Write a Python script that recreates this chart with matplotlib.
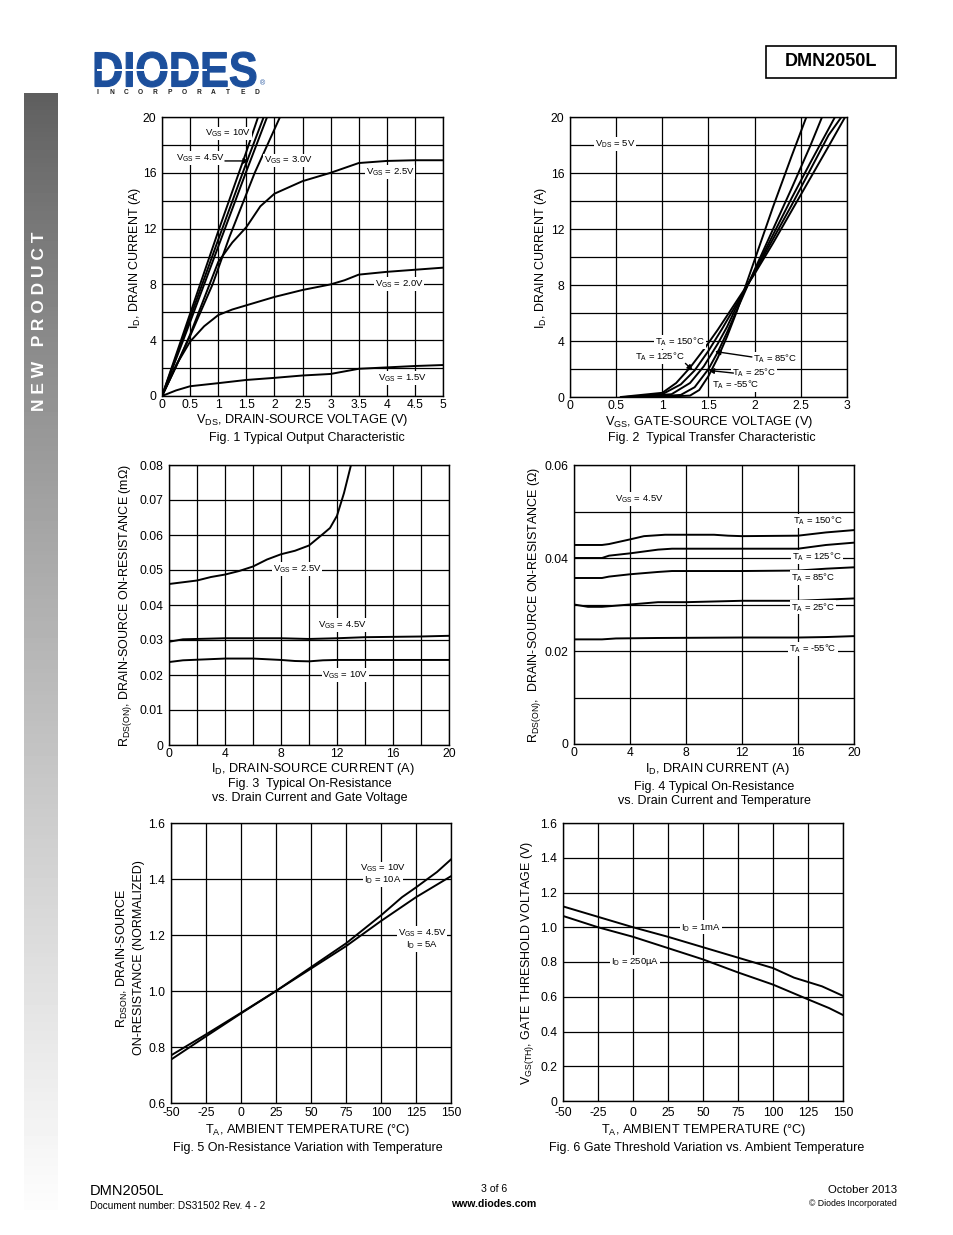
import numpy as np
import matplotlib.pyplot as plt
from matplotlib.textpath import TextPath
from matplotlib.patches import PathPatch, Rectangle
from matplotlib.font_manager import FontProperties
from matplotlib.transforms import Affine2D, IdentityTransform

# ---- data ----

# Fig 1: output characteristic, VDS (V) vs ID (A)
f1_vgs15_x = [0, 0.25, 0.5, 1, 1.5, 2, 2.5, 3, 3.5, 4, 4.5, 5]
f1_vgs15_y = [0, 0.4, 0.7, 0.92, 1.15, 1.3, 1.47, 1.58, 1.95, 2.05, 2.15, 2.22]
f1_vgs20_x = [0, 0.25, 0.5, 0.75, 1, 1.25, 1.5, 2, 2.5, 3, 3.25, 3.5, 4, 4.5, 5]
f1_vgs20_y = [0, 2.2, 3.9, 5.0, 5.8, 6.2, 6.5, 7.1, 7.6, 8.0, 8.3, 8.7, 8.9, 9.05, 9.2]
f1_vgs25_x = [0, 0.25, 0.5, 0.75, 1, 1.25, 1.5, 1.75, 2, 2.5, 3, 3.5, 4, 4.5, 5]
f1_vgs25_y = [0, 2.1, 4.4, 7.0, 9.6, 11.0, 12.1, 13.6, 14.5, 15.4, 16.0, 16.7, 16.85, 16.9, 16.9]
f1_vgs30_x = [0, 0.5, 0.9, 1.2, 1.65, 2.1]
f1_vgs30_y = [0, 4.3, 8.0, 11.4, 16.0, 20]
f1_vgs35_x = [0, 0.5, 1, 1.5, 1.87]
f1_vgs35_y = [0, 5.3, 10.7, 16.1, 20]
f1_vgs45_x = [0, 0.5, 1, 1.5, 1.81]
f1_vgs45_y = [0, 5.6, 11.2, 16.7, 20]
f1_vgs10_x = [0, 0.5, 1, 1.5, 1.71]
f1_vgs10_y = [0, 5.9, 11.8, 17.5, 20]

# Fig 2: transfer characteristic, VGS (V) vs ID (A)
f2_m55_x = [0.95, 1.3, 1.4, 1.5, 1.6, 1.7, 1.8, 1.9, 2.0, 2.2, 2.4, 2.56]
f2_m55_y = [0, 0.1, 0.5, 1.5, 2.8, 4.3, 6.0, 7.9, 9.8, 13.6, 17.2, 20]
f2_25_x = [0.85, 1.2, 1.35, 1.5, 1.6, 1.7, 1.8, 1.9, 2.0, 2.2, 2.4, 2.6, 2.73]
f2_25_y = [0, 0.15, 0.7, 2.0, 3.2, 4.6, 6.1, 7.6, 9.1, 12.0, 14.9, 17.9, 20]
f2_85_x = [0.7, 1.1, 1.3, 1.45, 1.6, 1.7, 1.8, 1.9, 2.0, 2.2, 2.4, 2.6, 2.87]
f2_85_y = [0, 0.2, 1.0, 2.2, 3.8, 5.0, 6.4, 7.7, 9.0, 11.6, 14.2, 16.7, 20]
f2_125_x = [0.6, 1.0, 1.2, 1.35, 1.5, 1.65, 1.8, 1.9, 2.0, 2.2, 2.4, 2.6, 2.8, 2.94]
f2_125_y = [0, 0.2, 0.9, 1.9, 3.3, 4.9, 6.6, 7.7, 8.9, 11.3, 13.7, 16.2, 18.7, 20]
f2_150_x = [0.55, 1.0, 1.15, 1.3, 1.45, 1.6, 1.75, 1.9, 2.0, 2.2, 2.4, 2.6, 2.8, 2.98]
f2_150_y = [0, 0.3, 1.0, 2.1, 3.4, 4.8, 6.3, 7.8, 8.8, 11.0, 13.3, 15.6, 17.9, 20]

# Fig 3: RDS(ON) vs ID for gate voltages
f3_vgs25_x = [0, 1, 2, 3, 4, 5, 6, 7, 8, 9, 10, 11, 11.5, 12, 12.5, 13]
f3_vgs25_y = [0.046, 0.0465, 0.047, 0.048, 0.0487, 0.0497, 0.051, 0.053, 0.0545, 0.0555,
              0.057, 0.0603, 0.062, 0.0655, 0.072, 0.08]
f3_vgs45_x = [0, 1, 4, 8, 10, 12, 14, 18, 20]
f3_vgs45_y = [0.0295, 0.0302, 0.0305, 0.0305, 0.0303, 0.0305, 0.0308, 0.031, 0.0312]
f3_vgs10_x = [0, 1, 4, 6, 8, 9, 10, 11, 12, 20]
f3_vgs10_y = [0.0237, 0.0242, 0.0247, 0.0247, 0.0243, 0.024, 0.0239, 0.0242, 0.0243, 0.0243]

# Fig 4: RDS(ON) vs ID for temperatures
f4_150_x = [0, 2, 2.5, 4, 5, 6.5, 8, 10, 11, 12, 16, 18, 20]
f4_150_y = [0.0428, 0.0428, 0.043, 0.044, 0.0447, 0.045, 0.045, 0.045, 0.0448, 0.0447,
            0.0448, 0.0455, 0.046]
f4_125_x = [0, 2, 2.5, 4, 6, 7, 12, 16, 18, 20]
f4_125_y = [0.040, 0.040, 0.0405, 0.041, 0.0418, 0.042, 0.042, 0.042, 0.0428, 0.0433]
f4_85_x = [0, 2, 2.5, 4, 6, 7, 12, 16, 18, 20]
f4_85_y = [0.0357, 0.0357, 0.036, 0.0365, 0.037, 0.0372, 0.0372, 0.0373, 0.0377, 0.038]
f4_25_x = [0, 1, 2, 4, 6, 8, 12, 16, 20]
f4_25_y = [0.030, 0.0295, 0.0295, 0.030, 0.0305, 0.0305, 0.0308, 0.0308, 0.0313]
f4_m55_x = [0, 2, 3, 6, 12, 16, 18, 20]
f4_m55_y = [0.0225, 0.0225, 0.0227, 0.0228, 0.0229, 0.0229, 0.023, 0.0232]

# Fig 5: normalized RDS(ON) vs temperature
f5_10v_x = [-50, -25, 0, 25, 50, 75, 100, 115, 125, 140, 150]
f5_10v_y = [0.755, 0.838, 0.92, 1.0, 1.085, 1.17, 1.27, 1.335, 1.37, 1.425, 1.47]
f5_45v_x = [-50, -25, 0, 25, 50, 75, 100, 125, 140, 150]
f5_45v_y = [0.77, 0.845, 0.922, 1.0, 1.08, 1.16, 1.25, 1.335, 1.38, 1.41]

# Fig 6: gate threshold vs temperature
f6_1ma_x = [-50, -25, 0, 25, 50, 75, 100, 115, 135, 150]
f6_1ma_y = [1.12, 1.06, 1.0, 0.945, 0.885, 0.825, 0.765, 0.71, 0.66, 0.605]
f6_250_x = [-50, -25, 0, 25, 50, 75, 100, 125, 140, 150]
f6_250_y = [1.065, 1.0, 0.945, 0.88, 0.815, 0.74, 0.67, 0.585, 0.535, 0.495]

# ---- page setup ----
W, H = 954, 1235
plt.rcParams['font.family'] = ['Liberation Sans', 'DejaVu Sans']
plt.rcParams['mathtext.default'] = 'regular'

fig = plt.figure(figsize=(W / 100, H / 100), dpi=100)


def pax(x0, y0, x1, y1):
    # axes from page pixel box (top-left origin)
    return fig.add_axes([x0 / W, 1 - y1 / H, (x1 - x0) / W, (y1 - y0) / H])


def ftext(x, y, s, **kw):
    kw.setdefault('ha', 'center')
    kw.setdefault('va', 'center')
    fig.text(x / W, 1 - y / H, s, **kw)


def style(ax, xlim, ylim, xt, xl, yt, yl, xpad=2):
    ax.set_xlim(*xlim)
    ax.set_ylim(*ylim)
    ax.set_xticks(xt)
    ax.set_xticklabels(xl)
    ax.set_yticks(yt)
    ax.set_yticklabels(yl)
    ax.grid(True, color='black', lw=0.9)
    ax.set_axisbelow(True)
    ax.tick_params(length=0, labelsize=8.7, colors='black')
    ax.tick_params(axis='x', pad=xpad)
    ax.tick_params(axis='y', pad=4)
    for s in ax.spines.values():
        s.set_linewidth(1.0)


def lab(ax, x, y, s, **kw):
    ax.text(x, y, s, fontsize=6.8, ha='center', va='center', zorder=5,
            bbox=dict(fc='white', ec='none', pad=0.6), **kw)


def arrow(ax, x0, y0, x1, y1):
    ax.annotate('', xy=(x1, y1), xytext=(x0, y0), zorder=6,
                arrowprops=dict(arrowstyle='-|>', color='black', lw=1.0,
                                mutation_scale=8, shrinkA=0, shrinkB=0))


LW = 1.4
TEMP_TICKS = ['-50', '-25', '0', '25', '50', '75', '100', '125', '150']

# ---- Fig 1 ----
ax1 = pax(162, 117, 443, 396)
style(ax1, (0, 5), (0, 20),
      np.arange(0, 5.01, 0.5), ['0', '0.5', '1', '1.5', '2', '2.5', '3', '3.5', '4', '4.5', '5'],
      np.arange(0, 20.1, 2), ['0', '', '4', '', '8', '', '12', '', '16', '', '20'])
for xs, ys in [(f1_vgs15_x, f1_vgs15_y), (f1_vgs20_x, f1_vgs20_y), (f1_vgs25_x, f1_vgs25_y),
               (f1_vgs30_x, f1_vgs30_y), (f1_vgs35_x, f1_vgs35_y), (f1_vgs45_x, f1_vgs45_y),
               (f1_vgs10_x, f1_vgs10_y)]:
    ax1.plot(xs, ys, color='black', lw=LW, clip_on=True)
lab(ax1, 1.17, 18.8, 'V$_{GS}$ = 10V')
lab(ax1, 0.69, 17.06, 'V$_{GS}$ = 4.5V')
arrow(ax1, 1.12, 16.85, 1.55, 16.85)
lab(ax1, 2.24, 16.9, 'V$_{GS}$ = 3.0V')
lab(ax1, 4.06, 16.06, 'V$_{GS}$ = 2.5V')
lab(ax1, 4.22, 8.03, 'V$_{GS}$ = 2.0V')
lab(ax1, 4.27, 1.29, 'V$_{GS}$ = 1.5V')
ftext(135, 258, 'I$_D$, DRAIN CURRENT (A)', rotation=90, fontsize=9)
ftext(302, 420, 'V$_{DS}$, DRAIN-SOURCE VOLTAGE (V)', fontsize=9.2)
ftext(307, 438, 'Fig. 1 Typical Output Characteristic', fontsize=9)

# ---- Fig 2 ----
ax2 = pax(570, 117, 847, 397)
style(ax2, (0, 3), (0, 20),
      np.arange(0, 3.01, 0.5), ['0', '0.5', '1', '1.5', '2', '2.5', '3'],
      np.arange(0, 20.1, 2), ['0', '', '4', '', '8', '', '12', '', '16', '', '20'])
for xs, ys in [(f2_m55_x, f2_m55_y), (f2_25_x, f2_25_y), (f2_85_x, f2_85_y),
               (f2_125_x, f2_125_y), (f2_150_x, f2_150_y)]:
    ax2.plot(xs, ys, color='black', lw=LW)
lab(ax2, 0.49, 18.07, 'V$_{DS}$ = 5V')
lab(ax2, 1.19, 3.93, 'T$_A$ = 150°C')
lab(ax2, 0.97, 2.86, 'T$_A$ = 125°C')
arrow(ax2, 1.25, 2.4, 1.33, 1.9)
lab(ax2, 2.22, 2.71, 'T$_A$ = 85°C')
arrow(ax2, 1.97, 2.86, 1.57, 3.25)
lab(ax2, 1.99, 1.71, 'T$_A$ = 25°C')
arrow(ax2, 1.77, 1.71, 1.5, 1.9)
lab(ax2, 1.79, 0.86, 'T$_A$ = -55°C')
ftext(541, 258, 'I$_D$, DRAIN CURRENT (A)', rotation=90, fontsize=9)
ftext(709, 422, 'V$_{GS}$, GATE-SOURCE VOLTAGE (V)', fontsize=9.2)
ftext(712, 438, 'Fig. 2  Typical Transfer Characteristic', fontsize=9)

# ---- Fig 3 ----
ax3 = pax(169, 465, 449, 745)
style(ax3, (0, 20), (0, 0.08),
      np.arange(0, 20.1, 2), ['0', '', '4', '', '8', '', '12', '', '16', '', '20'],
      np.arange(0, 0.0801, 0.01), ['0', '0.01', '0.02', '0.03', '0.04', '0.05', '0.06', '0.07', '0.08'])
for xs, ys in [(f3_vgs25_x, f3_vgs25_y), (f3_vgs45_x, f3_vgs45_y), (f3_vgs10_x, f3_vgs10_y)]:
    ax3.plot(xs, ys, color='black', lw=LW)
lab(ax3, 9.14, 0.0503, 'V$_{GS}$ = 2.5V')
lab(ax3, 12.4, 0.0343, 'V$_{GS}$ = 4.5V')
lab(ax3, 12.6, 0.02, 'V$_{GS}$ = 10V')
ftext(126, 605, 'R$_{DS(ON)}$, DRAIN-SOURCE ON-RESISTANCE (mΩ)', rotation=90, fontsize=9)
ftext(313, 769, 'I$_D$, DRAIN-SOURCE CURRENT (A)', fontsize=9.2)
ftext(310, 784, 'Fig. 3  Typical On-Resistance', fontsize=9)
ftext(310, 798, 'vs. Drain Current and Gate Voltage', fontsize=9)

# ---- Fig 4 ----
ax4 = pax(574, 465, 854, 744)
style(ax4, (0, 20), (0, 0.06),
      np.arange(0, 20.1, 4), ['0', '4', '8', '12', '16', '20'],
      np.arange(0, 0.0601, 0.01), ['0', '', '0.02', '', '0.04', '', '0.06'])
for xs, ys in [(f4_150_x, f4_150_y), (f4_125_x, f4_125_y), (f4_85_x, f4_85_y),
               (f4_25_x, f4_25_y), (f4_m55_x, f4_m55_y)]:
    ax4.plot(xs, ys, color='black', lw=LW)
lab(ax4, 4.64, 0.0527, 'V$_{GS}$ = 4.5V')
lab(ax4, 17.4, 0.048, 'T$_A$ = 150°C')
lab(ax4, 17.36, 0.0403, 'T$_A$ = 125°C')
lab(ax4, 17.1, 0.0358, 'T$_A$ = 85°C')
lab(ax4, 17.1, 0.0294, 'T$_A$ = 25°C')
lab(ax4, 17.07, 0.0204, 'T$_A$ = -55°C')
ftext(535, 605, 'R$_{DS(ON)}$,  DRAIN-SOURCE ON-RESISTANCE (Ω)', rotation=90, fontsize=9)
ftext(717, 769, 'I$_D$, DRAIN CURRENT (A)', fontsize=9.2)
ftext(714, 787, 'Fig. 4 Typical On-Resistance', fontsize=9)
ftext(714, 801, 'vs. Drain Current and Temperature', fontsize=9)

# ---- Fig 5 ----
ax5 = pax(171, 823, 451, 1103)
style(ax5, (-50, 150), (0.6, 1.6),
      np.arange(-50, 151, 25), TEMP_TICKS,
      np.arange(0.6, 1.61, 0.2), ['0.6', '0.8', '1.0', '1.2', '1.4', '1.6'], xpad=3)
ax5.plot(f5_10v_x, f5_10v_y, color='black', lw=LW)
ax5.plot(f5_45v_x, f5_45v_y, color='black', lw=LW)
lab(ax5, 101.4, 1.438, 'V$_{GS}$ = 10V')
lab(ax5, 101.4, 1.397, 'I$_D$ = 10A')
lab(ax5, 129.3, 1.207, 'V$_{GS}$ = 4.5V')
lab(ax5, 129.3, 1.165, 'I$_D$ = 5A')
ftext(122, 958, 'R$_{DSON}$, DRAIN-SOURCE', rotation=90, fontsize=9)
ftext(139, 958, 'ON-RESISTANCE (NORMALIZED)', rotation=90, fontsize=9)
ftext(308, 1130, 'T$_A$, AMBIENT TEMPERATURE (°C)', fontsize=9.2)
ftext(308, 1148, 'Fig. 5 On-Resistance Variation with Temperature', fontsize=9)

# ---- Fig 6 ----
ax6 = pax(563, 823, 843, 1101)
style(ax6, (-50, 150), (0, 1.6),
      np.arange(-50, 151, 25), TEMP_TICKS,
      np.arange(0, 1.61, 0.2), ['0', '0.2', '0.4', '0.6', '0.8', '1.0', '1.2', '1.4', '1.6'],
      xpad=4)
ax6.plot(f6_1ma_x, f6_1ma_y, color='black', lw=LW)
ax6.plot(f6_250_x, f6_250_y, color='black', lw=LW)
lab(ax6, 48.6, 1.0, 'I$_D$ = 1mA')
lab(ax6, 1.4, 0.8, 'I$_D$ = 250µA')
ftext(528, 963, 'V$_{GS(TH)}$, GATE THRESHOLD VOLTAGE (V)', rotation=90, fontsize=9)
ftext(704, 1130, 'T$_A$, AMBIENT TEMPERATURE (°C)', fontsize=9.2)
ftext(707, 1148, 'Fig. 6 Gate Threshold Variation vs. Ambient Temperature', fontsize=9)

# ---- side bar ----
sb = pax(24, 93, 58, 1210)
t = np.linspace(0, 1, 256) ** 0.85
grad = (94 + 159 * t)[:, None] / 255.0
sb.imshow(np.repeat(grad, 2, axis=1), cmap='gray', vmin=0, vmax=1, aspect='auto',
          extent=(0, 1, 0, 1), origin='upper')
sb.set_axis_off()
ftext(40, 321, 'N E W   P R O D U C T', rotation=90, fontsize=12.5, color='white',
      fontweight='bold')

# ---- header ----
tp = TextPath((0, 0), 'DIODES', size=100,
              prop=FontProperties(family='Liberation Sans', weight='bold'))
ext = tp.get_extents()
tr = (Affine2D().translate(-ext.x0, -ext.y0)
      .scale(161 / ext.width, 35 / ext.height).translate(95, H - 87))
fig.add_artist(PathPatch(tr.transform_path(tp), fc='#1c4f9c', ec='#1c4f9c', lw=0.8,
                         transform=IdentityTransform()))
fig.add_artist(Rectangle((97, H - 70.5), 110, 1.3, fc='white', ec='none',
                         transform=IdentityTransform()))
ftext(262, 84, '®', fontsize=5, color='#1c4f9c')
for xi, ch in zip(np.linspace(97, 257, 12), 'INCORPORATED'):
    ftext(xi, 92, ch, fontsize=4.8, fontweight='bold', color='#222222')

fig.add_artist(Rectangle((766 / W, 1 - 78 / H), 130 / W, 32 / H, transform=fig.transFigure,
                         fill=False, lw=1.2, ec='black'))
ftext(831, 62, 'DMN2050L', fontsize=13, fontweight='bold')

# ---- footer ----
ftext(90, 1191, 'DMN2050L', ha='left', fontsize=10.5)
ftext(90, 1206, 'Document number: DS31502 Rev. 4 - 2', ha='left', fontsize=7.2)
ftext(494, 1189, '3 of 6', fontsize=7.6)
ftext(494, 1204, 'www.diodes.com', fontsize=7.6, fontweight='bold')
ftext(897, 1190, 'October 2013', ha='right', fontsize=8.2)
ftext(897, 1204, '© Diodes Incorporated', ha='right', fontsize=6.3)

fig.savefig('out.png', dpi=100)
